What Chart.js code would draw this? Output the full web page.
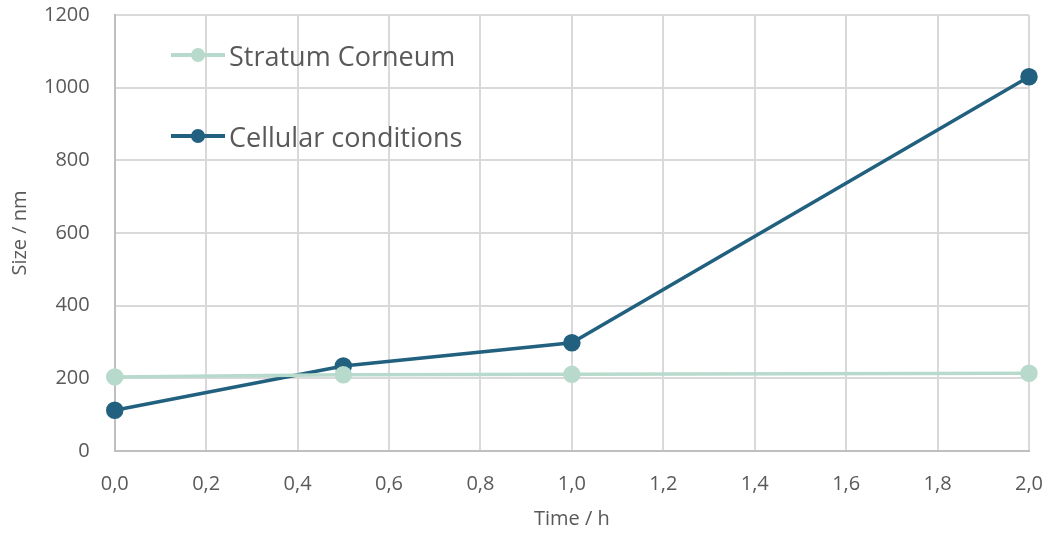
<!DOCTYPE html>
<html>
<head>
<meta charset="utf-8">
<script src="https://cdn.jsdelivr.net/npm/chart.js@4"></script>
<style>
  html, body { margin: 0; padding: 0; background: #fff; }
  #wrap { position: relative; width: 1050px; height: 533px; }
  #legend { position: absolute; left: 171px; top: 34px; font-family: "Open Sans", sans-serif; font-size: 27px; color: #595959; }
  .item { display: flex; align-items: center; height: 42px; margin-bottom: 39px; }
  .sym { position: relative; width: 54px; height: 14px; margin-right: 4px; }
  .sym .ln { position: absolute; left: 0; right: 0; top: 5px; height: 4px; }
  .sym .dot { position: absolute; left: 20px; top: 0; width: 14px; height: 14px; border-radius: 50%; }
</style>
</head>
<body>
<div id="wrap">
  <canvas id="chart" width="1050" height="533"></canvas>
  <div id="legend"></div>
</div>
<script>
// Data
const seriesNames = ['Stratum Corneum', 'Cellular conditions'];
const timeHours = [0, 0.5, 1.0, 2.0];
const stratumSize = [204, 210, 211, 214];
const cellularSize = [112, 234, 298, 1030];
const seriesColors = ['#b8dacd', '#22607f'];

const textColor = '#595959';
const fontFamily = '"Open Sans", sans-serif';

function toPoints(values) {
    return timeHours.map((t, i) => ({ x: t, y: values[i] }));
}

function makeDataset(i, values) {
    return {
        label: seriesNames[i],
        data: toPoints(values),
        borderColor: seriesColors[i],
        backgroundColor: seriesColors[i],
        borderWidth: 3.5,
        pointRadius: 7,
        pointHoverRadius: 7,
        tension: 0,
        clip: false
    };
}

// gap between tick labels and axis comes from invisible tick marks,
// so it does not add to the outer padding of the chart
const chart = new Chart(document.getElementById('chart').getContext('2d'), {
    type: 'line',
    data: {
        datasets: [makeDataset(0, stratumSize), makeDataset(1, cellularSize)]
    },
    options: {
        responsive: false,
        animation: false,
        layout: { autoPadding: false, padding: { top: 15, right: 21, left: 8, bottom: 2 } },
        plugins: {
            legend: { display: false },
            tooltip: { enabled: false }
        },
        scales: {
            x: {
                type: 'linear',
                min: 0,
                max: 2,
                ticks: {
                    stepSize: 0.2,
                    color: textColor,
                    font: { family: fontFamily, size: 20 },
                    padding: 0,
                    callback: v => v.toFixed(1).replace('.', ',')
                },
                grid: { color: '#d9d9d9', lineWidth: 2, drawTicks: true, tickLength: 21, tickColor: 'rgba(0,0,0,0)' },
                border: { color: '#bfbfbf', width: 2 },
                title: {
                    display: true,
                    text: 'Time / h',
                    color: textColor,
                    font: { family: fontFamily, size: 20 },
                    padding: { top: 11, bottom: 0 }
                }
            },
            y: {
                min: 0,
                max: 1200,
                ticks: {
                    stepSize: 200,
                    color: textColor,
                    font: { family: fontFamily, size: 20 },
                    padding: 0,
                    callback: v => String(v)
                },
                grid: { color: '#d9d9d9', lineWidth: 2, drawTicks: true, tickLength: 25, tickColor: 'rgba(0,0,0,0)' },
                border: { color: '#bfbfbf', width: 2 },
                title: {
                    display: true,
                    text: 'Size / nm',
                    color: textColor,
                    font: { family: fontFamily, size: 20 },
                    padding: { top: 0, bottom: 12 }
                }
            }
        }
    }
});

// Legend inside the plot area, built from the datasets
const legend = document.getElementById('legend');
chart.data.datasets.forEach(ds => {
    const item = document.createElement('div');
    item.className = 'item';
    item.innerHTML = `<span class="sym"><span class="ln" style="background:${ds.borderColor}"></span>` +
        `<span class="dot" style="background:${ds.borderColor}"></span></span><span>${ds.label}</span>`;
    legend.appendChild(item);
});
</script>
</body>
</html>
